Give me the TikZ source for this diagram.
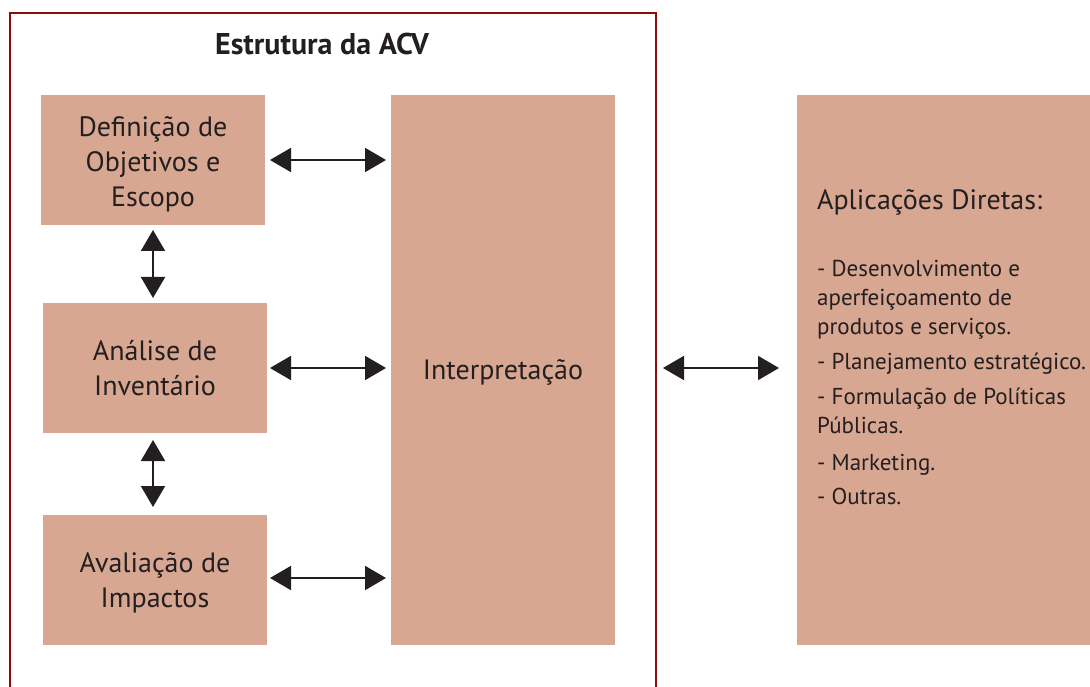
\documentclass[tikz,border=0pt]{standalone}
\usepackage{fontspec}
\setmainfont{PT Sans}
\usetikzlibrary{arrows.meta}
\definecolor{boxfill}{RGB}{216,167,146}
\definecolor{frame}{RGB}{140,12,12}
\definecolor{txt}{RGB}{35,31,32}
\tikzset{
  box/.style={fill=boxfill, draw=none, inner sep=0pt},
  boxtext/.style={inner sep=0pt, text=txt, align=center, font=\fontsize{28}{35}\selectfont},
  dbl/.style={line width=2pt, draw=txt, {Triangle[length=21pt,width=24pt]}-{Triangle[length=21pt,width=24pt]}},
}
\begin{document}
\begin{tikzpicture}[x=1pt,y=-1pt]
\useasboundingbox (0,0) rectangle (1090,687);
% frame
\draw[frame, line width=2.5pt] (10,700) -- (10,13) -- (656,13) -- (656,700);
\node[font=\bfseries\fontsize{30}{34}\selectfont, text=txt] (title) at (322,44) {Estrutura da ACV};
% boxes
\node[box, minimum width=224pt, minimum height=130pt] (def) at (153,160) {};
\node[box, minimum width=224pt, minimum height=130pt] (ana) at (155,368) {};
\node[box, minimum width=224pt, minimum height=130pt] (ava) at (155,580) {};
\node[box, minimum width=224pt, minimum height=550pt] (int) at (503,370) {};
\node[box, minimum width=300pt, minimum height=550pt] (app) at (947,370) {};
\node[boxtext] (deft) at ([yshift=-4pt]def.center) {Definição de\\Objetivos e\\Escopo};
\node[boxtext] (anat) at (ana.center) {Análise de\\Inventário};
\node[boxtext] (avat) at ([yshift=-3pt]ava.center) {Avaliação de\\Impactos};
\node[boxtext] (intt) at ([yshift=-2pt]int.center) {Interpretação};
% right text
\node[anchor=west, text=txt, font=\fontsize{28}{32}\selectfont, inner sep=0pt] (apt) at (817,202) {Aplicações Diretas:};
\node[anchor=north west, text=txt, align=left, inner sep=0pt, font=\fontsize{23}{29}\selectfont] (list) at (817,260)
{- Desenvolvimento e\\aperfeiçoamento de\\produtos e serviços.\\[6pt]- Planejamento estratégico.\\[6pt]- Formulação de Políticas\\Públicas.\\[8pt]- Marketing.\\[5pt]- Outras.};
% arrows
\coordinate (a1l) at (270,160); \coordinate (a1r) at (386,160);
\coordinate (a2l) at (270,368); \coordinate (a2r) at (386,368);
\coordinate (a3l) at (270,578); \coordinate (a3r) at (386,578);
\coordinate (v1t) at (153,230); \coordinate (v1b) at (153,298);
\coordinate (v2t) at (153,440); \coordinate (v2b) at (153,507);
\coordinate (r1l) at (663,368); \coordinate (r1r) at (779,368);
\draw[dbl] (a1l) -- (a1r);
\draw[dbl] (a2l) -- (a2r);
\draw[dbl] (a3l) -- (a3r);
\draw[dbl] (v1t) -- (v1b);
\draw[dbl] (v2t) -- (v2b);
\draw[dbl] (r1l) -- (r1r);
\end{tikzpicture}
\end{document}
